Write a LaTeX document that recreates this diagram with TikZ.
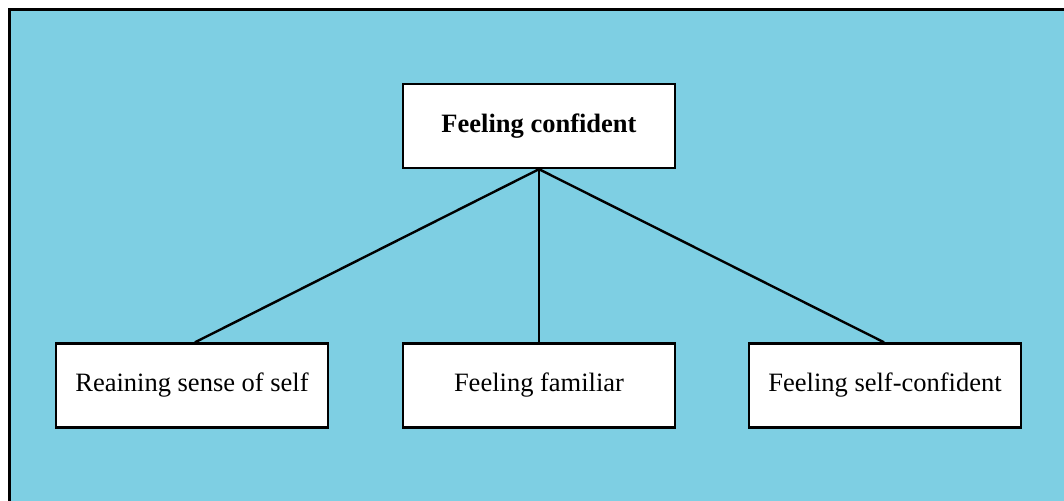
\documentclass[tikz,border=0pt]{standalone}
\usepackage{fontspec}
\setmainfont{Liberation Serif}
\definecolor{panel}{HTML}{7ECFE3}
\begin{document}
\begin{tikzpicture}[x=1pt,y=-1pt,
  box/.style={draw=black,line width=2.4pt,fill=white,minimum width=272pt,minimum height=84pt,inner sep=0pt,font=\fontsize{26.5}{30}\selectfont},
  link/.style={draw=black,line width=2.4pt}]
\useasboundingbox (0,0) rectangle (1064,500);
% light blue panel with a heavy frame, running off the right and bottom edges
\draw[fill=panel,line width=3pt] (9.5,9.5) rectangle (1080,520);
\node[box,font=\fontsize{26.5}{30}\selectfont\bfseries] (top) at (539,126) {Feeling confident};
\node[box] (left) at (192,385.5) {Reaining sense of self};
\node[box] (mid) at (539,385.5) {Feeling familiar};
\node[box] (right) at (885,385.5) {Feeling self-confident};
\draw[link] (top.south) -- ([xshift=3pt]left.north);
\draw[link] (top.south) -- (mid.north);
\draw[link] (top.south) -- ([xshift=-1pt]right.north);
\end{tikzpicture}
\end{document}
